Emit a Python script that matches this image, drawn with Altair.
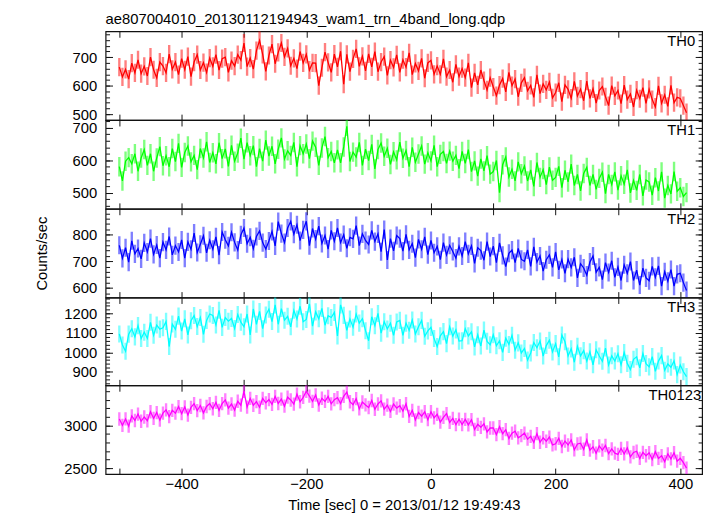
import altair as alt
import pandas as pd

# ---------------- data ----------------
TIME = list(range(-500, 411, 5))  # bin centres [sec]

TH0 = [
    665, 631, 657, 623, 679, 645, 691, 642, 668, 634,
    700, 656, 627, 683, 669, 645, 711, 657, 683, 639,
    695, 656, 702, 632, 683, 709, 655, 681, 646, 697,
    668, 709, 655, 695, 700, 647, 688, 669, 709, 690,
    750, 667, 697, 658, 723, 759, 710, 650, 706, 746,
    677, 717, 750, 701, 731, 670, 696, 660, 720, 680,
    710, 655, 680, 679, 600, 663, 718, 682, 647, 711,
    666, 721, 605, 710, 649, 694, 729, 668, 703, 652,
    712, 666, 720, 649, 683, 702, 636, 690, 664, 708,
    647, 691, 665, 715, 639, 678, 652, 696, 626, 680,
    689, 640, 669, 640, 694, 632, 655, 612, 675, 632,
    660, 628, 680, 593, 645, 603, 655, 618, 585, 628,
    595, 565, 602, 625, 578, 647, 600, 623, 561, 610,
    628, 582, 601, 559, 638, 572, 606, 585, 613, 557,
    576, 610, 544, 603, 587, 556, 615, 564, 588, 547,
    616, 555, 589, 539, 583, 597, 561, 530, 600, 564,
    583, 537, 602, 551, 571, 525, 584, 554, 593, 538,
    587, 551, 525, 599, 538, 568, 527, 601, 540, 559,
    555, 530, 505,
]

TH1 = [
    580, 536, 597, 608, 589, 620, 566, 607, 633, 584,
    620, 566, 607, 642, 583, 614, 580, 636, 596, 652,
    578, 624, 644, 595, 615, 571, 636, 607, 657, 593,
    623, 589, 654, 605, 635, 581, 646, 597, 622, 668,
    603, 654, 614, 645, 580, 636, 597, 662, 613, 643,
    589, 634, 669, 604, 629, 615, 655, 580, 645, 620,
    650, 605, 659, 640, 584, 638, 673, 608, 627, 592,
    632, 592, 641, 705, 596, 625, 610, 655, 584, 634,
    599, 649, 573, 633, 653, 612, 637, 587, 626, 601,
    656, 606, 630, 580, 640, 594, 619, 644, 588, 623,
    598, 646, 580, 618, 627, 590, 628, 597, 615, 574,
    627, 590, 633, 565, 598, 551, 604, 567, 614, 557,
    565, 599, 500, 586, 610, 548, 572, 536, 595, 558,
    582, 536, 570, 519, 593, 547, 571, 525, 579, 538,
    547, 581, 515, 569, 533, 588, 522, 556, 505, 559,
    578, 522, 556, 510, 544, 563, 497, 556, 525, 564,
    508, 552, 526, 570, 499, 538, 507, 556, 490, 539,
    533, 492, 546, 505, 564, 483, 522, 496, 565, 504,
    515, 488, 500,
]

TH2 = [
    760, 711, 751, 697, 777, 728, 748, 709, 769, 735,
    785, 726, 761, 712, 772, 743, 793, 724, 759, 735,
    780, 712, 773, 745, 806, 733, 764, 796, 732, 779,
    745, 792, 723, 810, 781, 758, 809, 771, 742, 799,
    825, 766, 790, 747, 793, 814, 770, 746, 776, 812,
    758, 849, 804, 770, 825, 850, 802, 837, 778, 818,
    850, 759, 823, 783, 832, 767, 797, 746, 816, 775,
    825, 770, 800, 749, 790, 784, 834, 759, 803, 778,
    763, 816, 774, 803, 736, 819, 705, 785, 739, 797,
    785, 738, 801, 743, 766, 714, 782, 745, 792, 725,
    778, 732, 756, 706, 770, 724, 760, 737, 712, 756,
    720, 774, 728, 758, 692, 751, 740, 704, 774, 718,
    757, 695, 769, 722, 680, 730, 742, 695, 748, 707,
    700, 743, 681, 754, 697, 720, 663, 706, 724, 677,
    735, 668, 707, 655, 708, 677, 715, 638, 691, 675,
    648, 697, 720, 659, 677, 631, 695, 658, 702, 640,
    679, 628, 687, 655, 699, 628, 667, 611, 674, 638,
    627, 681, 640, 683, 607, 661, 625, 669, 607, 651,
    655, 620, 590,
]

TH3 = [
    1095, 1038, 1006, 1094, 1122, 1080, 1138, 1071, 1104, 1072,
    1155, 1088, 1141, 1120, 1127, 1160, 1030, 1146, 1119, 1187,
    1110, 1173, 1090, 1163, 1190, 1133, 1180, 1093, 1165, 1198,
    1190, 1141, 1217, 1129, 1180, 1161, 1175, 1123, 1195, 1156,
    1132, 1198, 1090, 1224, 1145, 1211, 1122, 1193, 1223, 1159,
    1245, 1145, 1226, 1166, 1186, 1132, 1217, 1172, 1238, 1158,
    1170, 1250, 1135, 1209, 1173, 1227, 1140, 1189, 1180, 1206,
    1085, 1245, 1191, 1114, 1172, 1130, 1198, 1151, 1174, 1112,
    1060, 1184, 1137, 1201, 1099, 1158, 1121, 1150, 1088, 1157,
    1165, 1088, 1151, 1114, 1167, 1095, 1132, 1165, 1083, 1111,
    1129, 1071, 1030, 1085, 1107, 1045, 1132, 1084, 1116, 1058,
    1060, 1122, 1085, 1106, 1028, 1091, 1033, 1115, 1057, 1039,
    1091, 1034, 1060, 1000, 1073, 1041, 1088, 1011, 1049, 997,
    1020, 960, 997, 1051, 1024, 1058, 981, 1035, 1063, 1002,
    1045, 977, 1090, 1055, 981, 1018, 949, 1031, 982, 1009,
    955, 1003, 936, 1013, 981, 954, 1022, 935, 982, 955,
    993, 936, 999, 943, 911, 964, 977, 920, 994, 942,
    925, 978, 902, 955, 983, 907, 940, 923, 956, 885,
    935, 900, 875,
]

TH0123 = [
    3075, 3001, 3076, 2992, 3112, 3058, 3133, 3049, 3099, 3055,
    3160, 3082, 3150, 3062, 3144, 3182, 3104, 3176, 3143, 3221,
    3138, 3217, 3121, 3211, 3255, 3174, 3233, 3147, 3222, 3256,
    3195, 3269, 3177, 3256, 3299, 3203, 3251, 3180, 3283, 3237,
    3400, 3214, 3317, 3236, 3279, 3213, 3316, 3265, 3303, 3247,
    3340, 3257, 3308, 3225, 3331, 3298, 3249, 3366, 3277, 3329,
    3400, 3344, 3282, 3356, 3239, 3318, 3281, 3340, 3253, 3302,
    3325, 3256, 3341, 3390, 3277, 3243, 3313, 3194, 3274, 3240,
    3210, 3292, 3189, 3251, 3288, 3190, 3237, 3164, 3251, 3203,
    3230, 3167, 3254, 3105, 3177, 3064, 3151, 3108, 3160, 3067,
    3160, 3088, 3130, 3038, 3095, 3138, 3035, 3083, 3010, 3073,
    3010, 3071, 3006, 3067, 2952, 3013, 2978, 3019, 2924, 2970,
    2970, 2893, 2985, 2903, 2950, 2848, 2910, 2933, 2855, 2880,
    2910, 2839, 2872, 2801, 2904, 2803, 2856, 2815, 2863, 2772,
    2785, 2849, 2753, 2817, 2771, 2830, 2714, 2783, 2792, 2721,
    2830, 2710, 2750, 2675, 2760, 2710, 2765, 2670, 2725, 2675,
    2660, 2731, 2666, 2737, 2632, 2683, 2698, 2614, 2684, 2645,
    2680, 2601, 2692, 2614, 2645, 2576, 2667, 2608, 2680, 2581,
    2615, 2565, 2500,
]

PANEL_NAMES = ["TH0", "TH1", "TH2", "TH3", "TH0123"]
PANEL_RATES = [TH0, TH1, TH2, TH3, TH0123]
PANEL_ERRORS = [32, 30, 34, 44, 78]          # error bar half length
Y_DOMAINS = [[479, 791], [450, 724], [564, 897], [830, 1283], [2431, 3470]]
Y_LABELED = [[500, 600, 700], [500, 600, 700], [600, 700, 800],
             [900, 1000, 1100, 1200], [2500, 3000]]
Y_MINOR_STEP = [20, 20, 20, 20, 100]
X_DOMAIN = [-522, 435]
X_TICKS = [-500, -400, -300, -200, -100, 0, 100, 200, 300, 400]

TITLE = "ae807004010_20130112194943_wam1_trn_4band_long.qdp"
X_TITLE = "Time [sec] 0 = 2013/01/12 19:49:43"
Y_TITLE = "Counts/sec"

# ---------------- styles ----------------
COLORS = ["#ff0000", "#00ff00", "#0000ff", "#00ffff", "#ff00ff"]
FONT = "Liberation Sans"
W = 605
HEIGHTS = [90, 90, 90, 89, 90]
LABEL_RIGHT = [598, 598, 598, 598, 604]


def minor_values(dom, step):
    start = (int(dom[0]) // step + 1) * step
    return list(range(start, int(dom[1]) + 1, step))


def make_panel(i):
    last = i == len(PANEL_NAMES) - 1
    df = pd.DataFrame({"t": TIME, "rate": PANEL_RATES[i]})
    df["lo"] = df["rate"] - PANEL_ERRORS[i]
    df["hi"] = df["rate"] + PANEL_ERRORS[i]
    color = COLORS[i]

    xs = alt.Scale(domain=X_DOMAIN, nice=False, zero=False)
    ys = alt.Scale(domain=Y_DOMAINS[i], nice=False, zero=False)
    tick_common = dict(domain=False, grid=False, tickColor="#111", tickWidth=1)

    bottom_kw = dict(orient="bottom", values=X_TICKS, tickSize=6, offset=-6,
                     labels=last, **tick_common)
    if last:
        bottom_kw.update(labelExpr="datum.value % 200 === 0 ? datum.label : ''",
                         labelPadding=3, labelFontSize=15, labelColor="#000",
                         titleFontSize=15, titleFontWeight="normal",
                         titlePadding=6, titleColor="#000")
    x_bottom = alt.X("t:Q", scale=xs, axis=alt.Axis(**bottom_kw),
                     title=X_TITLE if last else None)

    left_kw = dict(orient="left", values=Y_LABELED[i], tickSize=7, offset=-7,
                   labelPadding=9, labelFontSize=15, labelColor="#000",
                   format="d", **tick_common)
    if i == 2:
        left_kw.update(titleFontSize=15, titleFontWeight="normal",
                       titlePadding=23, titleColor="#000")
    y_left = alt.Y("rate:Q", scale=ys, axis=alt.Axis(**left_kw),
                   title=Y_TITLE if i == 2 else None)

    base = alt.Chart(df)

    errbars = base.mark_rule(color=color, strokeWidth=2.4, opacity=0.5,
                             clip=True).encode(
        x=alt.X("t:Q", scale=xs, title=None,
                axis=alt.Axis(orient="top", values=X_TICKS, tickSize=6,
                              offset=-6, labels=False, **tick_common)),
        y=alt.Y("lo:Q", scale=ys, title=None,
                axis=alt.Axis(orient="right", values=Y_LABELED[i], tickSize=7,
                              offset=-7, labels=False, **tick_common)),
        y2="hi:Q",
    )

    line = base.mark_line(color=color, strokeWidth=1.3, clip=True).encode(
        x=x_bottom, y=y_left)

    minors = minor_values(Y_DOMAINS[i], Y_MINOR_STEP[i])
    minor_left = base.mark_point(opacity=0, clip=True).encode(
        x=alt.X("t:Q", scale=xs, axis=None),
        y=alt.Y("rate:Q", scale=ys, title=None,
                axis=alt.Axis(orient="left", values=minors, tickSize=4,
                              offset=-4, labels=False, **tick_common)),
    )
    minor_right = base.mark_point(opacity=0, clip=True).encode(
        x=alt.X("t:Q", scale=xs, axis=None),
        y=alt.Y("rate:Q", scale=ys, title=None,
                axis=alt.Axis(orient="right", values=minors, tickSize=4,
                              offset=-4, labels=False, **tick_common)),
    )

    label = alt.Chart(pd.DataFrame({"name": [PANEL_NAMES[i]]})).mark_text(
        align="right", baseline="top", fontSize=15, font=FONT, color="#000"
    ).encode(x=alt.value(LABEL_RIGHT[i]), y=alt.value(3), text="name:N")

    layer = alt.layer(errbars, line, minor_left, minor_right, label).resolve_axis(
        x="independent", y="independent").properties(width=W, height=HEIGHTS[i])
    if i == 0:
        layer = layer.properties(title=alt.TitleParams(
            TITLE, anchor="start", frame="group", fontSize=15,
            fontWeight="normal", font=FONT, color="#000", offset=4))
    return layer


panels = [make_panel(i) for i in range(len(PANEL_NAMES))]

chart = alt.vconcat(*panels, spacing=0, bounds="flush").properties(
    padding={"left": 26, "top": -1, "right": 5, "bottom": 5}
).configure_view(
    stroke="#111", strokeWidth=1.2
).configure_axis(
    labelFont=FONT, titleFont=FONT
).configure_title(
    font=FONT
)

chart.save("out.html", embed_options={"renderer": "svg", "actions": False})
